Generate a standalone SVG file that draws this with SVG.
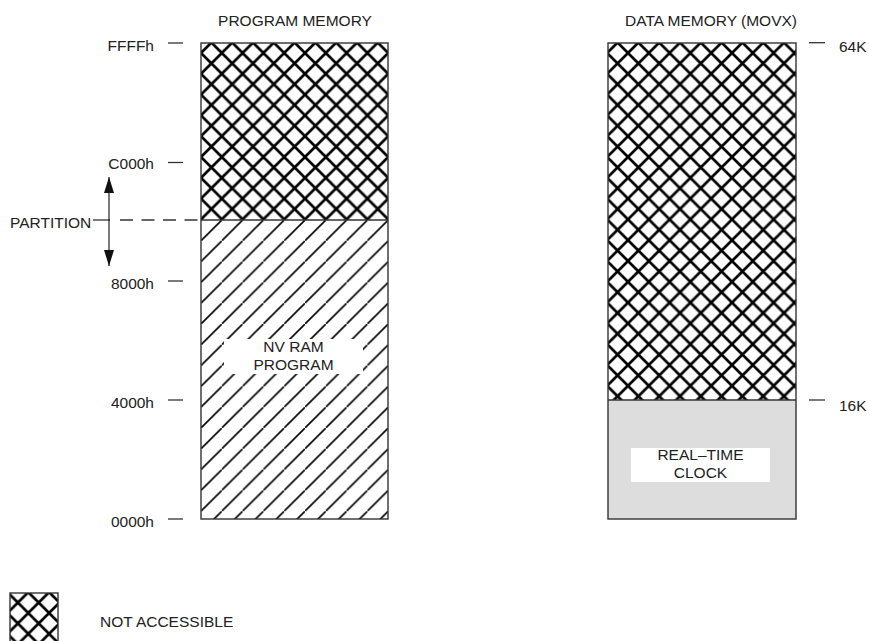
<svg xmlns="http://www.w3.org/2000/svg" width="869" height="641" viewBox="0 0 869 641">
<style>
  text { font-family: "Liberation Sans", Arial, sans-serif; font-size: 15.5px; fill: #222; }
  .box { fill: none; stroke: #333; stroke-width: 1.4; }
  .tick { stroke: #333; stroke-width: 1.3; }
  .line { stroke: #333; stroke-width: 1.3; fill: none; }
  .xh { stroke: #000; stroke-width: 2.7; stroke-linecap: round; }
</style>
<defs>
  <pattern id="xhProg" patternUnits="userSpaceOnUse" x="201" y="32.2" width="20.8" height="20.8">
    <path class="xh" d="M-2,-2 L22.8,22.8 M22.8,-2 L-2,22.8"/>
  </pattern>
  <pattern id="xhData" patternUnits="userSpaceOnUse" x="607.2" y="32.2" width="20.8" height="20.8">
    <path class="xh" d="M-2,-2 L22.8,22.8 M22.8,-2 L-2,22.8"/>
  </pattern>
  <pattern id="xhLegend" patternUnits="userSpaceOnUse" x="7.5" y="592.2" width="20.8" height="20.8">
    <path class="xh" d="M-2,-2 L22.8,22.8 M22.8,-2 L-2,22.8"/>
  </pattern>
  <pattern id="hatch" patternUnits="userSpaceOnUse" x="201" y="220" width="20.8" height="20.8">
    <path d="M-2,22.8 L22.8,-2" stroke="#000" stroke-width="1.6"/>
  </pattern>
  <marker id="arrow" viewBox="0 0 16 10" refX="16" refY="5" markerWidth="16" markerHeight="10" markerUnits="userSpaceOnUse" orient="auto">
    <path d="M0,0 L16,5 L0,10 Z" fill="#111"/>
  </marker>
</defs>

<g id="program-memory">
  <text x="295" y="25.5" text-anchor="middle">PROGRAM MEMORY</text>
  <rect x="201" y="43" width="187" height="177" fill="url(#xhProg)"/>
  <rect x="201" y="220" width="187" height="299" fill="url(#hatch)"/>
  <rect x="224" y="339" width="139" height="35" fill="#fff"/>
  <text x="293.5" y="352" text-anchor="middle">NV RAM</text>
  <text x="293.5" y="370" text-anchor="middle">PROGRAM</text>
  <rect class="box" x="201" y="43" width="187" height="476"/>
  <line class="line" x1="201" y1="220" x2="388" y2="220"/>
</g>

<g id="program-addresses">
  <line class="tick" x1="168" y1="43" x2="183" y2="43"/>
  <text x="154" y="50.5" text-anchor="end">FFFFh</text>
  <line class="tick" x1="168" y1="162.5" x2="183" y2="162.5"/>
  <text x="154" y="169" text-anchor="end">C000h</text>
  <line class="tick" x1="168" y1="281" x2="183" y2="281"/>
  <text x="154" y="288.5" text-anchor="end">8000h</text>
  <line class="tick" x1="168" y1="400" x2="183" y2="400"/>
  <text x="154" y="407.5" text-anchor="end">4000h</text>
  <line class="tick" x1="168" y1="519" x2="183" y2="519"/>
  <text x="154" y="526.5" text-anchor="end">0000h</text>
</g>

<g id="partition">
  <text x="10" y="228">PARTITION</text>
</g>

<g id="connectors">
  <line class="line" x1="93" y1="220" x2="110" y2="220"/>
  <line class="line" x1="120" y1="220" x2="201" y2="220" stroke-dasharray="13 8.5"/>
  <line class="line" x1="109" y1="221" x2="109" y2="177" marker-end="url(#arrow)"/>
  <line class="line" x1="109" y1="219" x2="109" y2="266" marker-end="url(#arrow)"/>
</g>

<g id="data-memory">
  <text x="711" y="26" text-anchor="middle">DATA MEMORY (MOVX)</text>
  <rect x="608" y="43" width="188" height="357" fill="url(#xhData)"/>
  <rect x="608" y="400" width="188" height="119" fill="#dddddd"/>
  <rect x="631" y="448" width="139" height="34" fill="#fff"/>
  <text x="700.5" y="460" text-anchor="middle">REAL–TIME</text>
  <text x="700.5" y="477.5" text-anchor="middle">CLOCK</text>
  <rect class="box" x="608" y="43" width="188" height="476"/>
  <line class="line" x1="608" y1="400" x2="796" y2="400"/>
</g>

<g id="data-addresses">
  <line class="tick" x1="809" y1="42.7" x2="825" y2="42.7"/>
  <text x="839" y="51.5">64K</text>
  <line class="tick" x1="809" y1="400" x2="825" y2="400"/>
  <text x="839" y="410.5">16K</text>
</g>

<g id="legend">
  <rect x="10" y="593" width="48" height="48" fill="url(#xhLegend)"/>
  <rect class="box" x="10" y="593" width="48" height="49"/>
  <text x="100" y="626.5">NOT ACCESSIBLE</text>
</g>
</svg>
